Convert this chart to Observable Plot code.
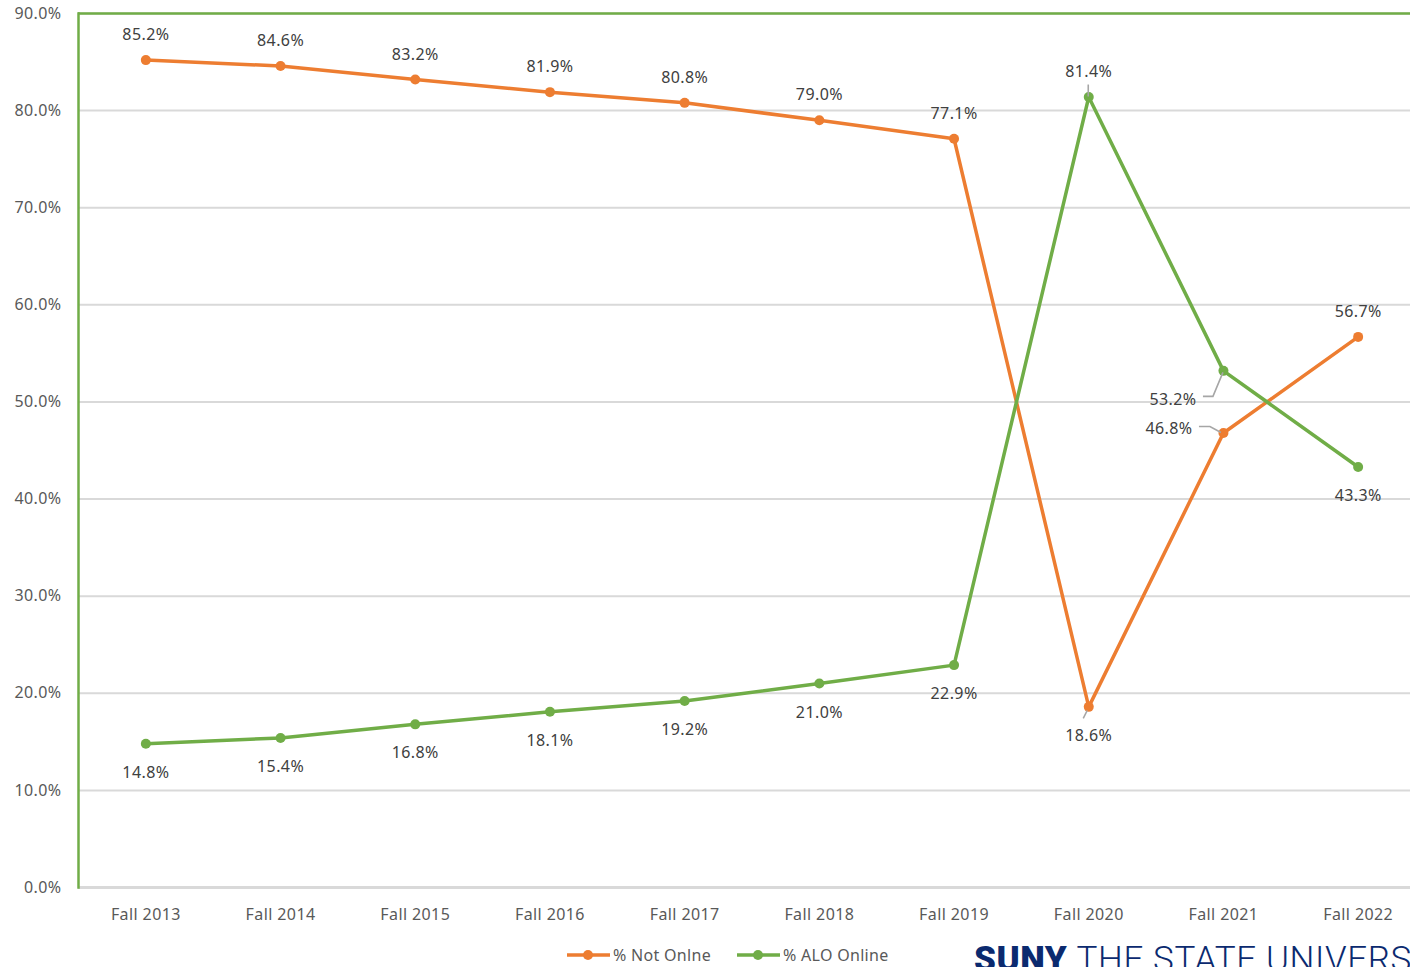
<!DOCTYPE html>
<html>
<head>
<meta charset="utf-8">
<script src="https://cdn.jsdelivr.net/npm/d3@7"></script>
<script src="https://cdn.jsdelivr.net/npm/@observablehq/plot@0.6"></script>
<style>
  html, body { margin: 0; padding: 0; background: #fff; overflow: hidden; }
  #wrap { position: relative; width: 1410px; height: 967px; overflow: hidden; font-family: "Noto Sans", sans-serif; }
  #legend { position: absolute; top: 944px; left: 566px; display: flex; align-items: center; font-size: 16px; color: #595959; letter-spacing: 0.3px; }
  #legend .item { display: flex; align-items: center; margin-right: 25px; }
  #legend svg { display: block; margin-right: 2px; }
  #suny { position: absolute; top: 939px; left: 974px; font-family: Roboto, sans-serif; font-size: 35px; color: #0b2a6f; white-space: nowrap; letter-spacing: 0.6px; }
  #suny b { font-weight: 900; letter-spacing: 0.5px; }
  #suny span { font-weight: 300; }
</style>
</head>
<body>
<div id="wrap">
  <div id="chart"></div>
  <div id="legend"></div>
  <div id="suny"><b>SUNY</b> <span>THE STATE UNIVERSITY OF NEW YORK</span></div>
</div>
<script>
const years = ["Fall 2013","Fall 2014","Fall 2015","Fall 2016","Fall 2017","Fall 2018","Fall 2019","Fall 2020","Fall 2021","Fall 2022"];
const notOnline = [85.2,84.6,83.2,81.9,80.8,79.0,77.1,18.6,46.8,56.7];
const aloOnline = [14.8,15.4,16.8,18.1,19.2,21.0,22.9,81.4,53.2,43.3];
const notPos = ["above","above","above","above","above","above","above","below","left","above"];
const aloPos = ["below","below","below","below","below","below","below","above","left","below"];
const seriesNames = ["% Not Onlne", "% ALO Online"];
const yTicks = [0,10,20,30,40,50,60,70,80,90];

const ORANGE = "#ED7D31", GREEN = "#70AD47";

const rows = [];
years.forEach((y, i) => {
  rows.push({year: y, value: notOnline[i], series: seriesNames[0], pos: notPos[i]});
  rows.push({year: y, value: aloOnline[i], series: seriesNames[1], pos: aloPos[i]});
});
const colorOf = s => s === seriesNames[0] ? ORANGE : GREEN;

// leader line shapes (pixel offsets relative to the point), per series/position
const leaderShapes = {
  "% Not Onlne|below": [[-1,4],[-5,12]],
  "% Not Onlne|left": [[-2,0],[-13,-6],[-24,-6]],
  "% ALO Online|above": [[0,0],[0,-12]],
  "% ALO Online|left": [[0,2],[-10,26],[-20,26]]
};

function leaders(index, scales) {
  const g = d3.create("svg:g");
  rows.forEach(r => {
    const shape = leaderShapes[r.series + "|" + r.pos];
    if (!shape) return;
    const px = scales.x(r.year), py = scales.y(r.value);
    g.append("path")
      .attr("d", "M" + shape.map(([dx, dy]) => (px + dx) + "," + (py + dy)).join("L"))
      .attr("fill", "none").attr("stroke", "#a6a6a6").attr("stroke-width", 1.6);
  });
  return g.node();
}

const labelStyle = {x: "year", y: "value", text: d => d.value.toFixed(1) + "%", fill: "#404040", fontSize: 16};

const chart = Plot.plot({
  width: 1410,
  height: 935,
  marginTop: 13,
  marginBottom: 48,
  marginLeft: 78,
  marginRight: 0,
  style: {fontFamily: "'Noto Sans', sans-serif", fontSize: "16px", color: "#595959", letterSpacing: "0.4px", background: "#fff"},
  x: {type: "point", domain: years, range: [78, 1425], padding: 0.5, round: false, label: null},
  y: {domain: [0, 90], label: null},
  marks: [
    Plot.gridY(yTicks, {stroke: "#d9d9d9", strokeOpacity: 1, strokeWidth: 2}),
    Plot.ruleY([0], {stroke: "#d9d9d9", strokeWidth: 3}),
    Plot.ruleY([90], {stroke: GREEN, strokeWidth: 2.5}),
    Plot.frame({anchor: "left", stroke: GREEN, strokeWidth: 2.5}),
    Plot.axisY(yTicks, {tickSize: 0, tickPadding: 17, tickFormat: d => d.toFixed(1) + "%", fill: "#595959", fontSize: 16}),
    Plot.axisX({tickSize: 0, tickPadding: 21, fill: "#595959", fontSize: 16}),
    Plot.line(rows, {x: "year", y: "value", z: "series", stroke: d => colorOf(d.series), strokeWidth: 3.5}),
    Plot.dot(rows, {x: "year", y: "value", fill: d => colorOf(d.series), r: 5}),
    leaders,
    Plot.text(rows.filter(d => d.pos === "above"), {...labelStyle, dy: -25}),
    Plot.text(rows.filter(d => d.pos === "below"), {...labelStyle, dy: 29}),
    Plot.text(rows.filter(d => d.pos === "left" && d.series === seriesNames[1]), {...labelStyle, textAnchor: "end", dx: -27, dy: 29}),
    Plot.text(rows.filter(d => d.pos === "left" && d.series === seriesNames[0]), {...labelStyle, textAnchor: "end", dx: -31, dy: -4})
  ]
});
document.getElementById("chart").appendChild(chart);

const legend = d3.select("#legend");
seriesNames.forEach((s, i) => {
  const item = legend.append("div").attr("class", "item");
  const sv = item.append("svg").attr("width", 45).attr("height", 14);
  sv.append("line").attr("x1", 1).attr("x2", 44).attr("y1", 7).attr("y2", 7).attr("stroke", colorOf(s)).attr("stroke-width", 3.5);
  sv.append("circle").attr("cx", 22).attr("cy", 7).attr("r", 5).attr("fill", colorOf(s));
  item.append("span").text(s);
});
</script>
</body>
</html>
